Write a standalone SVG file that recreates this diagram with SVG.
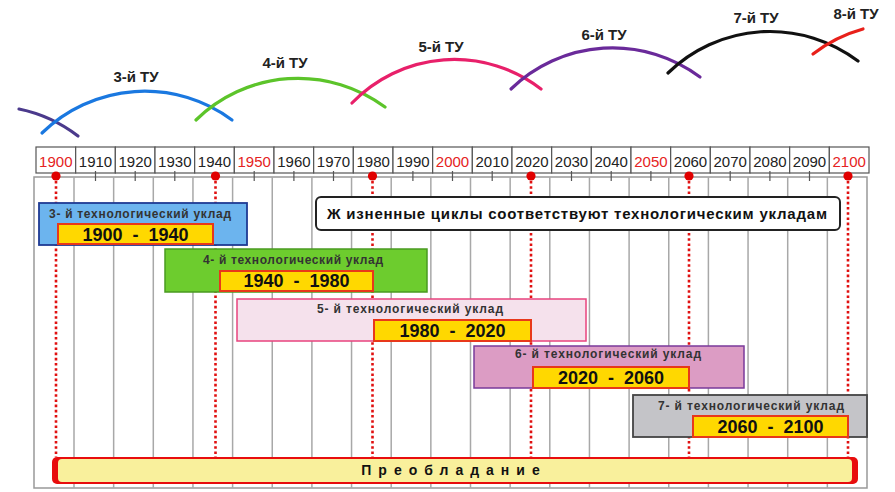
<svg xmlns="http://www.w3.org/2000/svg" width="895" height="492" viewBox="0 0 895 492">
<style>
text{font-family:"Liberation Sans",Arial,sans-serif}
.yr{font-size:15px;fill:#222;text-anchor:middle}
.yr.r{fill:#e52222}
.cell{fill:#fff;stroke:#555;stroke-width:1.2}
.tick{stroke:#555;stroke-width:1.2}
.grid{stroke:#a8a8a8;stroke-width:1.5}
.dot{fill:#e00000}
.dl{stroke:#e01010;stroke-width:2.6;stroke-dasharray:2.6 2.6;fill:none}
.arc{fill:none;stroke-width:3.2;stroke-linecap:round}
.tu{font-size:15px;font-weight:bold;fill:#222;text-anchor:middle}
.ttl{font-size:12px;font-weight:bold;fill:#333;text-anchor:middle}
.yb{fill:#ffd800;stroke:#e8381a;stroke-width:2}
.yt{font-size:18px;font-weight:bold;fill:#111;text-anchor:middle;white-space:pre}
</style>
<rect width="895" height="492" fill="#fff"/>

<g id="arcs">
<path class="arc" stroke="#4b3a8c" d="M19,109 A145,145 0 0 1 78,136"/>
<path class="arc" stroke="#1a78e0" d="M42,133 A147,147 0 0 1 232,120"/>
<path class="arc" stroke="#5cc42a" d="M196,120 A146,146 0 0 1 385,107"/>
<path class="arc" stroke="#e8206a" d="M352,103 A142,142 0 0 1 541,89"/>
<path class="arc" stroke="#6a2a9a" d="M511,89 A146,146 0 0 1 700,77"/>
<path class="arc" stroke="#111" d="M668,73 A146,146 0 0 1 858,61"/>
<path class="arc" stroke="#e8201a" d="M813,54 A145,145 0 0 1 863,29"/>
<text class="tu" x="136" y="82">3-й ТУ</text>
<text class="tu" x="285" y="68">4-й ТУ</text>
<text class="tu" x="441" y="52">5-й ТУ</text>
<text class="tu" x="604" y="40">6-й ТУ</text>
<text class="tu" x="756" y="23">7-й ТУ</text>
<text class="tu" x="856" y="19">8-й ТУ</text>
</g>

<g id="grid">
<rect x="34" y="177" width="833" height="311" fill="#fff" stroke="#999" stroke-width="1.5"/>
<path class="grid" d="M74,177V488M113.65,177V488M153.3,177V488M192.95,177V488M232.6,177V488M272.25,177V488M311.9,177V488M351.55,177V488M391.2,177V488M430.85,177V488M470.5,177V488M510.15,177V488M549.8,177V488M589.45,177V488M629.1,177V488M668.75,177V488M708.4,177V488M748.05,177V488M787.7,177V488M827.35,177V488"/>
</g>

<g id="axis">
<rect class="cell" x="36" y="147" width="39.67" height="26"/>
<rect class="cell" x="75.67" y="147" width="39.67" height="26"/>
<rect class="cell" x="115.33" y="147" width="39.67" height="26"/>
<rect class="cell" x="155" y="147" width="39.67" height="26"/>
<rect class="cell" x="194.67" y="147" width="39.67" height="26"/>
<rect class="cell" x="234.33" y="147" width="39.67" height="26"/>
<rect class="cell" x="274" y="147" width="39.67" height="26"/>
<rect class="cell" x="313.67" y="147" width="39.67" height="26"/>
<rect class="cell" x="353.33" y="147" width="39.67" height="26"/>
<rect class="cell" x="393" y="147" width="39.67" height="26"/>
<rect class="cell" x="432.67" y="147" width="39.67" height="26"/>
<rect class="cell" x="472.33" y="147" width="39.67" height="26"/>
<rect class="cell" x="512" y="147" width="39.67" height="26"/>
<rect class="cell" x="551.67" y="147" width="39.67" height="26"/>
<rect class="cell" x="591.33" y="147" width="39.67" height="26"/>
<rect class="cell" x="631" y="147" width="39.67" height="26"/>
<rect class="cell" x="670.67" y="147" width="39.67" height="26"/>
<rect class="cell" x="710.33" y="147" width="39.67" height="26"/>
<rect class="cell" x="750" y="147" width="39.67" height="26"/>
<rect class="cell" x="789.67" y="147" width="39.67" height="26"/>
<rect class="cell" x="829.33" y="147" width="39.67" height="26"/>
<path class="tick" d="M95.5,171V181M135.2,171V181M174.8,171V181M254.2,171V181M293.9,171V181M333.5,171V181M412.9,171V181M452.5,171V181M492.2,171V181M571.5,171V181M611.2,171V181M650.9,171V181M730.2,171V181M769.9,171V181M809.5,171V181"/>
<text class="yr r" x="55.8" y="167">1900</text>
<text class="yr" x="95.5" y="167">1910</text>
<text class="yr" x="135.2" y="167">1920</text>
<text class="yr" x="174.8" y="167">1930</text>
<text class="yr" x="214.5" y="167">1940</text>
<text class="yr r" x="254.2" y="167">1950</text>
<text class="yr" x="293.9" y="167">1960</text>
<text class="yr" x="333.5" y="167">1970</text>
<text class="yr" x="373.2" y="167">1980</text>
<text class="yr" x="412.9" y="167">1990</text>
<text class="yr r" x="452.5" y="167">2000</text>
<text class="yr" x="492.2" y="167">2010</text>
<text class="yr" x="531.9" y="167">2020</text>
<text class="yr" x="571.5" y="167">2030</text>
<text class="yr" x="611.2" y="167">2040</text>
<text class="yr r" x="650.9" y="167">2050</text>
<text class="yr" x="690.5" y="167">2060</text>
<text class="yr" x="730.2" y="167">2070</text>
<text class="yr" x="769.9" y="167">2080</text>
<text class="yr" x="809.5" y="167">2090</text>
<text class="yr r" x="849.2" y="167">2100</text>
</g>

<g id="connectors">
<path class="dl" d="M56,181V457M215.5,181V457M372.5,181V457M531,181V457M689,181V457M848,181V457"/>
<circle class="dot" cx="56" cy="176" r="4.6"/>
<circle class="dot" cx="215.5" cy="176" r="4.6"/>
<circle class="dot" cx="372.5" cy="176" r="4.6"/>
<circle class="dot" cx="531" cy="176" r="4.6"/>
<circle class="dot" cx="689" cy="176" r="4.6"/>
<circle class="dot" cx="848" cy="176" r="4.6"/>
</g>

<g id="lifecycles">
<rect x="316" y="197" width="524" height="33" rx="5" fill="#fff" stroke="#222" stroke-width="2"/>
<text x="577" y="219" font-size="15" font-weight="bold" fill="#111" text-anchor="middle" textLength="500" lengthAdjust="spacing">Ж изненные циклы соответствуют технологическим укладам</text>
</g>

<g id="tu3">
<rect x="39" y="203" width="208" height="42" fill="#6cb4ee" stroke="#1f3a93" stroke-width="1.8"/>
<text class="ttl" x="140" y="218" textLength="182" lengthAdjust="spacing">3- й технологический уклад</text>
<rect class="yb" x="58" y="224" width="155" height="20"/>
<text class="yt" x="135.5" y="240.5">1900  -  1940</text>
</g>

<g id="tu4">
<rect x="165" y="249" width="262" height="43" fill="#6dcc2e" stroke="#4a9a20" stroke-width="1.5"/>
<text class="ttl" x="293" y="263.5" textLength="180" lengthAdjust="spacing">4- й технологический уклад</text>
<rect class="yb" x="220" y="271" width="153" height="20"/>
<text class="yt" x="296.5" y="287">1940  -  1980</text>
</g>

<g id="tu5">
<rect x="237" y="299" width="349" height="42" fill="#f5e1ec" stroke="#e8437e" stroke-width="1.5"/>
<text class="ttl" x="410" y="312.5" textLength="186" lengthAdjust="spacing">5- й технологический уклад</text>
<rect class="yb" x="374" y="320" width="157" height="21"/>
<text class="yt" x="452.5" y="336.5">1980  -  2020</text>
</g>

<g id="tu6">
<rect x="474" y="346" width="270" height="42" fill="#dc9cc4" stroke="#7a3a9a" stroke-width="1.5"/>
<text class="ttl" x="608" y="357.5" textLength="186" lengthAdjust="spacing">6- й технологический уклад</text>
<rect class="yb" x="533" y="367" width="156" height="21"/>
<text class="yt" x="611" y="383.5">2020  -  2060</text>
</g>

<g id="tu7">
<rect x="633" y="395" width="234" height="42" fill="#c4c4c8" stroke="#444" stroke-width="1.8"/>
<text class="ttl" x="751" y="410" textLength="186" lengthAdjust="spacing">7- й технологический уклад</text>
<rect class="yb" x="693" y="416" width="155" height="21"/>
<text class="yt" x="770.5" y="432.5">2060  -  2100</text>
</g>

<g id="dominance">
<rect x="52" y="457" width="806" height="27" rx="5" fill="#e80d0d"/>
<rect x="58" y="459" width="794" height="23" rx="4" fill="#f9f09c"/>
<text x="454" y="475" font-size="14" font-weight="bold" fill="#111" text-anchor="middle" letter-spacing="7">Преобладание</text>
</g>
</svg>
